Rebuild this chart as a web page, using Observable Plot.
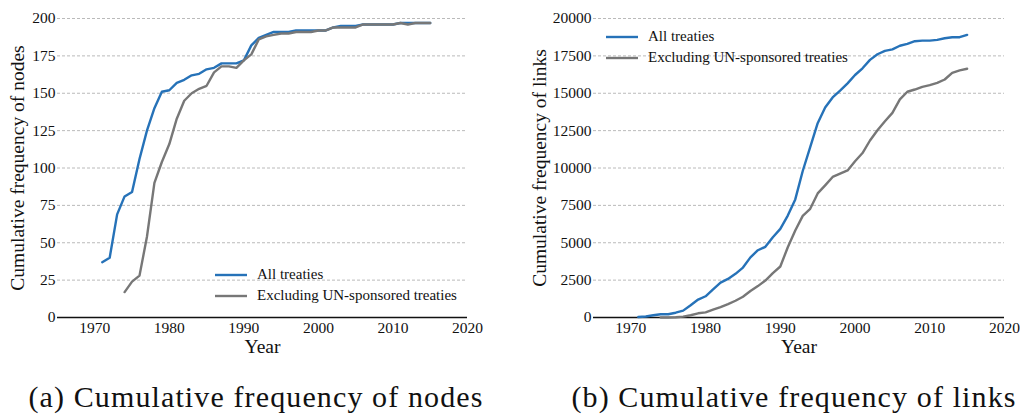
<!DOCTYPE html>
<html>
<head>
<meta charset="utf-8">
<script src="https://cdn.jsdelivr.net/npm/d3@7"></script>
<script src="https://cdn.jsdelivr.net/npm/@observablehq/plot@0.6"></script>
<style>
  html, body { margin: 0; padding: 0; background: #fff; }
  #wrap { position: relative; width: 1020px; height: 416px; overflow: hidden; font-family: "Liberation Serif", serif; }
  .panel { position: absolute; top: 0; width: 510px; }
  .legend { position: absolute; font-family: "Liberation Serif", serif; font-size: 15px; color: #111; }
  .legend .row { display: flex; align-items: center; height: 21px; white-space: nowrap; }
  .legend svg { margin-right: 10px; }
  .caption { position: absolute; top: 380px; font-family: "Liberation Serif", serif; font-size: 30px; letter-spacing: 1.12px; color: #111; white-space: nowrap; transform: translateX(-50%); }
</style>
</head>
<body>
<div id="wrap">
  <div id="pa" class="panel" style="left:0px"></div>
  <div id="pb" class="panel" style="left:510px"></div>
  <div id="lega" class="legend" style="left:215px; top:264px"></div>
  <div id="legb" class="legend" style="left:606px; top:26px"></div>
  <div class="caption" style="left:256px">(a) Cumulative frequency of nodes</div>
  <div class="caption" style="left:794px">(b) Cumulative frequency of links</div>
</div>
<script>
// ---- data ----
const seriesNames = ["All treaties", "Excluding UN-sponsored treaties"];
const seriesColors = ["#2672b8", "#777777"];

const yearsAll = [1971,1972,1973,1974,1975,1976,1977,1978,1979,1980,1981,1982,1983,1984,1985,1986,1987,1988,1989,1990,1991,1992,1993,1994,1995,1996,1997,1998,1999,2000,2001,2002,2003,2004,2005,2006,2007,2008,2009,2010,2011,2012,2013,2014,2015];
const yearsExcl = [1974,1975,1976,1977,1978,1979,1980,1981,1982,1983,1984,1985,1986,1987,1988,1989,1990,1991,1992,1993,1994,1995,1996,1997,1998,1999,2000,2001,2002,2003,2004,2005,2006,2007,2008,2009,2010,2011,2012,2013,2014,2015];

const nodesAll = [37,40,69,81,84,106,125,140,151,152,157,159,162,163,166,167,170,170,170,172,182,187,189,191,191,191,192,192,192,192,192,194,195,195,195,196,196,196,196,196,197,197,197,197,197];
const nodesExcl = [17,24,28,54,90,104,116,133,145,150,153,155,164,168,168,167,172,176,186,188,189,190,190,191,191,191,192,192,194,194,194,194,196,196,196,196,196,197,196,197,197,197];

const linksAll = [30,70,150,220,220,320,460,820,1200,1420,1880,2330,2580,2920,3340,4020,4500,4730,5370,5930,6820,7900,9800,11400,13000,14050,14720,15170,15660,16220,16670,17230,17610,17830,17940,18180,18300,18480,18520,18520,18570,18680,18750,18750,18900];
const linksExcl = [0,0,20,60,150,280,340,520,700,900,1120,1390,1770,2100,2470,2970,3410,4700,5820,6800,7270,8300,8840,9400,9620,9840,10450,11000,11840,12530,13130,13690,14590,15100,15250,15430,15540,15700,15920,16370,16530,16640];

const xTicks = [1970,1980,1990,2000,2010,2020];
const nodeTicks = [0,25,50,75,100,125,150,175,200];
const linkTicks = [0,2500,5000,7500,10000,12500,15000,17500,20000];
const xLabel = "Year";
const yLabels = ["Cumulative frequency of nodes", "Cumulative frequency of links"];

function rows(years, vals, s) { return years.map((y, i) => ({year: y, value: vals[i], series: s})); }

function panel({all, excl, yTicks, yMax, yLabel, marginLeft, marginRight, labelOffsetY}) {
  return Plot.plot({
    width: 510,
    height: 362,
    marginTop: 18,
    marginBottom: 45,
    marginLeft,
    marginRight,
    x: {domain: [1965, 2020]},
    y: {domain: [0, yMax]},
    marks: [
      Plot.gridY(yTicks.filter(d => d > 0), {stroke: "#a8a8a8", strokeOpacity: 1, strokeWidth: 0.8, strokeDasharray: "3,2"}),
      Plot.axisX(xTicks, {tickSize: 0, tickPadding: 4, tickFormat: d => String(d), label: xLabel, labelAnchor: "center", labelArrow: "none", labelOffset: 35}),
      Plot.axisY(yTicks, {tickSize: 0, tickPadding: 2, tickFormat: d => String(d), label: yLabel, labelAnchor: "center", labelArrow: "none", labelOffset: labelOffsetY}),
      Plot.ruleY([0], {stroke: "#111", strokeWidth: 1.6}),
      Plot.lineY(all, {x: "year", y: "value", stroke: seriesColors[0], strokeWidth: 2.4}),
      Plot.lineY(excl, {x: "year", y: "value", stroke: seriesColors[1], strokeWidth: 2.4})
    ]
  });
}

const a = panel({
  all: rows(yearsAll, nodesAll, seriesNames[0]),
  excl: rows(yearsExcl, nodesExcl, seriesNames[1]),
  yTicks: nodeTicks, yMax: 200, yLabel: yLabels[0],
  marginLeft: 57, marginRight: 43, labelOffsetY: 47
});
const b = panel({
  all: rows(yearsAll, linksAll, seriesNames[0]),
  excl: rows(yearsExcl, linksExcl, seriesNames[1]),
  yTicks: linkTicks, yMax: 20000, yLabel: yLabels[1],
  marginLeft: 83, marginRight: 16, labelOffsetY: 61
});
document.getElementById("pa").appendChild(a);
document.getElementById("pb").appendChild(b);

// fonts: Times-like serif, larger axis titles
for (const svg of [a, b]) {
  svg.style.fontFamily = "'Liberation Serif', serif";
  svg.style.overflow = "visible";
  svg.querySelectorAll("text").forEach(t => {
    const s = t.textContent.replace(/\s*[→↑]\s*/g, "");
    t.style.fontFamily = "'Liberation Serif', serif";
    t.style.fill = "#111";
    if (s === xLabel || yLabels.includes(s)) {
      t.textContent = s;
      t.style.fontSize = "19.5px";
    } else {
      t.style.fontSize = "15.5px";
    }
  });
}

function legend(el) {
  seriesNames.forEach((name, i) => {
    const row = document.createElement("div");
    row.className = "row";
    row.innerHTML = `<svg width="32" height="4"><line x1="0" x2="32" y1="2" y2="2" stroke="${seriesColors[i]}" stroke-width="2.4"/></svg><span>${name}</span>`;
    el.appendChild(row);
  });
}
legend(document.getElementById("lega"));
legend(document.getElementById("legb"));
</script>
</body>
</html>
